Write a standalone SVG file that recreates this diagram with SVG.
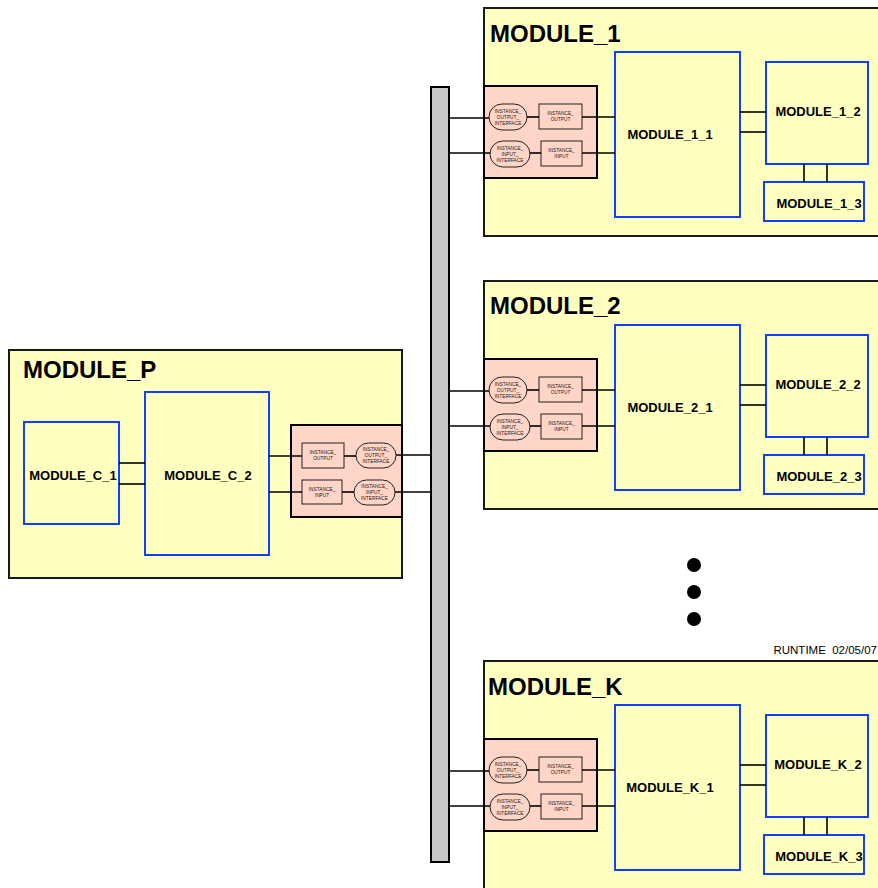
<svg xmlns="http://www.w3.org/2000/svg" width="878" height="888" viewBox="0 0 878 888">
  <style>
    .mod { fill: #ffffc0; stroke: #1a1a1a; stroke-width: 2; }
    .sub { fill: #ffffc0; stroke: #1040ff; stroke-width: 2; }
    .ifc { fill: #ffd5c8; stroke: #000; stroke-width: 2; }
    .port { fill: #ffd5c8; stroke: #222; stroke-width: 1; }
    .bus { fill: #c8c8c8; stroke: #000; stroke-width: 2; }
    .wire { stroke: #000; stroke-width: 1.6; fill: none; }
    .title { font-family: "Liberation Sans", Arial, sans-serif; font-weight: bold; font-size: 24px; fill: #000; }
    .lbl { font-family: "Liberation Sans", Arial, sans-serif; font-weight: bold; font-size: 13px; fill: #000; text-anchor: middle; }
    .tiny { font-family: "Liberation Sans", Arial, sans-serif; font-size: 4.8px; fill: #222; text-anchor: middle; }
    .note { font-family: "Liberation Sans", Arial, sans-serif; font-size: 11.5px; fill: #000; text-anchor: end; }
  </style>

  <!-- parent module with its two children and its instance interface -->
  <g id="module_p">
    <rect class="mod" x="9" y="350" width="393" height="228"/>
    <text class="title" x="23" y="378">MODULE_P</text>
    <g id="module_c_1">
      <rect class="sub" x="24" y="422" width="95" height="102"/>
      <text class="lbl" x="73" y="480">MODULE_C_1</text>
    </g>
    <g id="module_c_2">
      <rect class="sub" x="145" y="392" width="124" height="163"/>
      <text class="lbl" x="208" y="480">MODULE_C_2</text>
    </g>
    <g id="module_p_interface">
      <rect class="ifc" x="291" y="425" width="111" height="92"/>
      <rect class="port" x="302" y="443" width="42" height="25"/>
      <text class="tiny" x="323" y="454">INSTANCE_</text>
      <text class="tiny" x="323" y="460">OUTPUT</text>
      <rect class="port" x="356" y="443" width="40" height="25" rx="12.5"/>
      <text class="tiny" x="376" y="451">INSTANCE_</text>
      <text class="tiny" x="376" y="457">OUTPUT_</text>
      <text class="tiny" x="376" y="463">INTERFACE</text>
      <rect class="port" x="302" y="480" width="40" height="24"/>
      <text class="tiny" x="322" y="491">INSTANCE_</text>
      <text class="tiny" x="322" y="497">INPUT</text>
      <rect class="port" x="354" y="480" width="41" height="25" rx="12.5"/>
      <text class="tiny" x="374.5" y="488">INSTANCE_</text>
      <text class="tiny" x="374.5" y="494">INPUT_</text>
      <text class="tiny" x="374.5" y="500">INTERFACE</text>
    </g>
  </g>

  <!-- child module 1 -->
  <g id="module_1">
    <rect class="mod" x="484" y="8" width="410" height="228"/>
    <text class="title" x="490" y="42">MODULE_1</text>
    <g id="module_1_interface">
      <rect class="ifc" x="484" y="86" width="113" height="92"/>
      <rect class="port" x="489" y="104" width="38" height="26" rx="13"/>
      <text class="tiny" x="508" y="113">INSTANCE_</text>
      <text class="tiny" x="508" y="119">OUTPUT_</text>
      <text class="tiny" x="508" y="125">INTERFACE</text>
      <rect class="port" x="539" y="104" width="43" height="25"/>
      <text class="tiny" x="560.5" y="115">INSTANCE_</text>
      <text class="tiny" x="560.5" y="121">OUTPUT</text>
      <rect class="port" x="490" y="141" width="40" height="26" rx="13"/>
      <text class="tiny" x="510" y="150">INSTANCE_</text>
      <text class="tiny" x="510" y="156">INPUT_</text>
      <text class="tiny" x="510" y="162">INTERFACE</text>
      <rect class="port" x="541" y="141" width="41" height="25"/>
      <text class="tiny" x="561.5" y="152">INSTANCE_</text>
      <text class="tiny" x="561.5" y="158">INPUT</text>
    </g>
    <g id="module_1_1">
      <rect class="sub" x="615" y="52" width="125" height="165"/>
      <text class="lbl" x="670" y="139">MODULE_1_1</text>
    </g>
    <g id="module_1_2">
      <rect class="sub" x="766" y="62" width="102" height="102"/>
      <text class="lbl" x="818" y="116">MODULE_1_2</text>
    </g>
    <g id="module_1_3">
      <rect class="sub" x="764" y="182" width="100" height="39"/>
      <text class="lbl" x="819" y="208">MODULE_1_3</text>
    </g>
  </g>

  <!-- child module 2 -->
  <g id="module_2" transform="translate(0,273)">
    <rect class="mod" x="484" y="8" width="410" height="228"/>
    <text class="title" x="490" y="41">MODULE_2</text>
    <g id="module_2_interface">
      <rect class="ifc" x="484" y="86" width="113" height="92"/>
      <rect class="port" x="489" y="104" width="38" height="26" rx="13"/>
      <text class="tiny" x="508" y="113">INSTANCE_</text>
      <text class="tiny" x="508" y="119">OUTPUT_</text>
      <text class="tiny" x="508" y="125">INTERFACE</text>
      <rect class="port" x="539" y="104" width="43" height="25"/>
      <text class="tiny" x="560.5" y="115">INSTANCE_</text>
      <text class="tiny" x="560.5" y="121">OUTPUT</text>
      <rect class="port" x="490" y="141" width="40" height="26" rx="13"/>
      <text class="tiny" x="510" y="150">INSTANCE_</text>
      <text class="tiny" x="510" y="156">INPUT_</text>
      <text class="tiny" x="510" y="162">INTERFACE</text>
      <rect class="port" x="541" y="141" width="41" height="25"/>
      <text class="tiny" x="561.5" y="152">INSTANCE_</text>
      <text class="tiny" x="561.5" y="158">INPUT</text>
    </g>
    <g id="module_2_1">
      <rect class="sub" x="615" y="52" width="125" height="165"/>
      <text class="lbl" x="670" y="139">MODULE_2_1</text>
    </g>
    <g id="module_2_2">
      <rect class="sub" x="766" y="62" width="102" height="102"/>
      <text class="lbl" x="818" y="116">MODULE_2_2</text>
    </g>
    <g id="module_2_3">
      <rect class="sub" x="764" y="182" width="100" height="39"/>
      <text class="lbl" x="819" y="208">MODULE_2_3</text>
    </g>
  </g>

  <!-- child module K -->
  <g id="module_k" transform="translate(0,653)">
    <rect class="mod" x="484" y="8" width="410" height="260"/>
    <text class="title" x="488" y="42">MODULE_K</text>
    <g id="module_k_interface">
      <rect class="ifc" x="484" y="86" width="113" height="92"/>
      <rect class="port" x="489" y="104" width="38" height="26" rx="13"/>
      <text class="tiny" x="508" y="113">INSTANCE_</text>
      <text class="tiny" x="508" y="119">OUTPUT_</text>
      <text class="tiny" x="508" y="125">INTERFACE</text>
      <rect class="port" x="539" y="104" width="43" height="25"/>
      <text class="tiny" x="560.5" y="115">INSTANCE_</text>
      <text class="tiny" x="560.5" y="121">OUTPUT</text>
      <rect class="port" x="490" y="141" width="40" height="26" rx="13"/>
      <text class="tiny" x="510" y="150">INSTANCE_</text>
      <text class="tiny" x="510" y="156">INPUT_</text>
      <text class="tiny" x="510" y="162">INTERFACE</text>
      <rect class="port" x="541" y="141" width="41" height="25"/>
      <text class="tiny" x="561.5" y="152">INSTANCE_</text>
      <text class="tiny" x="561.5" y="158">INPUT</text>
    </g>
    <g id="module_k_1">
      <rect class="sub" x="615" y="52" width="125" height="165"/>
      <text class="lbl" x="670" y="139">MODULE_K_1</text>
    </g>
    <g id="module_k_2">
      <rect class="sub" x="766" y="62" width="102" height="102"/>
      <text class="lbl" x="818" y="116">MODULE_K_2</text>
    </g>
    <g id="module_k_3">
      <rect class="sub" x="764" y="182" width="100" height="39"/>
      <text class="lbl" x="819" y="208">MODULE_K_3</text>
    </g>
  </g>

  <!-- shared bus -->
  <g id="bus">
    <rect class="bus" x="431" y="87" width="18" height="775"/>
  </g>

  <!-- ellipsis between module 2 and module K -->
  <g id="ellipsis">
    <circle cx="694" cy="565" r="7" fill="#000"/>
    <circle cx="694" cy="592" r="7" fill="#000"/>
    <circle cx="694" cy="619" r="7" fill="#000"/>
  </g>

  <text class="note" x="877" y="654" xml:space="preserve">RUNTIME  02/05/07</text>

  <!-- wiring -->
  <g id="connectors">
    <g id="wires_p">
      <line class="wire" x1="119" y1="463" x2="145" y2="463"/>
      <line class="wire" x1="119" y1="484" x2="145" y2="484"/>
      <line class="wire" x1="269" y1="456" x2="302" y2="456"/>
      <line class="wire" x1="344" y1="456" x2="356" y2="456"/>
      <line class="wire" x1="396" y1="455" x2="431" y2="455"/>
      <line class="wire" x1="269" y1="492" x2="302" y2="492"/>
      <line class="wire" x1="342" y1="492" x2="354" y2="492"/>
      <line class="wire" x1="395" y1="492" x2="431" y2="492"/>
    </g>
    <g id="wires_1">
      <line class="wire" x1="449" y1="118" x2="489" y2="118"/>
      <line class="wire" x1="527" y1="117" x2="539" y2="117"/>
      <line class="wire" x1="582" y1="117" x2="615" y2="117"/>
      <line class="wire" x1="449" y1="153" x2="490" y2="153"/>
      <line class="wire" x1="530" y1="153" x2="541" y2="153"/>
      <line class="wire" x1="582" y1="153" x2="615" y2="153"/>
      <line class="wire" x1="740" y1="112" x2="766" y2="112"/>
      <line class="wire" x1="740" y1="132" x2="766" y2="132"/>
      <line class="wire" x1="804" y1="164" x2="804" y2="182"/>
      <line class="wire" x1="827" y1="164" x2="827" y2="182"/>
    </g>
    <g id="wires_2" transform="translate(0,273)">
      <line class="wire" x1="449" y1="118" x2="489" y2="118"/>
      <line class="wire" x1="527" y1="117" x2="539" y2="117"/>
      <line class="wire" x1="582" y1="117" x2="615" y2="117"/>
      <line class="wire" x1="449" y1="153" x2="490" y2="153"/>
      <line class="wire" x1="530" y1="153" x2="541" y2="153"/>
      <line class="wire" x1="582" y1="153" x2="615" y2="153"/>
      <line class="wire" x1="740" y1="112" x2="766" y2="112"/>
      <line class="wire" x1="740" y1="132" x2="766" y2="132"/>
      <line class="wire" x1="804" y1="164" x2="804" y2="182"/>
      <line class="wire" x1="827" y1="164" x2="827" y2="182"/>
    </g>
    <g id="wires_k" transform="translate(0,653)">
      <line class="wire" x1="449" y1="118" x2="489" y2="118"/>
      <line class="wire" x1="527" y1="117" x2="539" y2="117"/>
      <line class="wire" x1="582" y1="117" x2="615" y2="117"/>
      <line class="wire" x1="449" y1="153" x2="490" y2="153"/>
      <line class="wire" x1="530" y1="153" x2="541" y2="153"/>
      <line class="wire" x1="582" y1="153" x2="615" y2="153"/>
      <line class="wire" x1="740" y1="112" x2="766" y2="112"/>
      <line class="wire" x1="740" y1="132" x2="766" y2="132"/>
      <line class="wire" x1="804" y1="164" x2="804" y2="182"/>
      <line class="wire" x1="827" y1="164" x2="827" y2="182"/>
    </g>
  </g>
</svg>
